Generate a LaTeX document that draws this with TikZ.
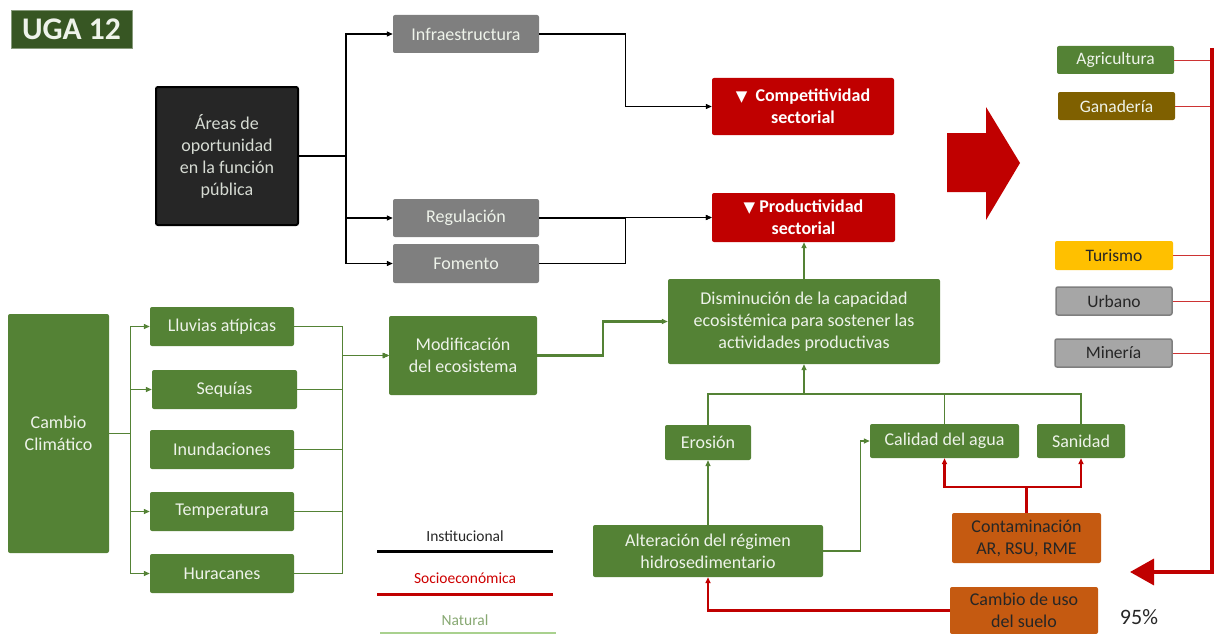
\documentclass[tikz,border=0pt]{standalone}
\usepackage{fontspec}
\setmainfont{Carlito}
\newfontfamily\symfont{DejaVu Sans}
\usetikzlibrary{arrows.meta,calc}
\definecolor{natgreen}{HTML}{548235}
\definecolor{ugagreen}{HTML}{375623}
\definecolor{boxgray}{HTML}{7F7F7F}
\definecolor{sered}{HTML}{C00000}
\definecolor{orng}{HTML}{C55A11}
\definecolor{brwn}{HTML}{7F6000}
\definecolor{yllw}{HTML}{FFC000}
\definecolor{urbgray}{HTML}{A6A6A6}
\definecolor{lightgreen}{HTML}{A9D18E}
\definecolor{boxtext}{HTML}{EEF3EA}
\definecolor{darktext}{HTML}{262626}
\tikzset{
  sz/.style 2 args={minimum width=#1, minimum height=#2},
  box/.style={rectangle, rounded corners=2pt, inner sep=1pt, align=center, font=\fontsize{18}{22}\selectfont},
  gbox/.style={box, fill=natgreen, text=boxtext},
  graybox/.style={box, fill=boxgray, text=boxtext},
  redbox/.style={box, fill=sered, text=white, font=\fontsize{18}{22}\selectfont\bfseries},
  obox/.style={box, fill=orng, text=darktext},
  sbox/.style={box, font=\fontsize{17.5}{20}\selectfont},
  lgd/.style={font=\fontsize{15.5}{18}\selectfont},
  tip/.style={-{Triangle[length=6pt,width=5pt]}},
  blk/.style={draw=black, line width=1.2pt},
  nat/.style={draw=natgreen, line width=1.3pt},
  natthick/.style={draw=natgreen, line width=2.4pt},
  soc/.style={draw=sered, line width=2.6pt},
  thinred/.style={draw=sered!80, line width=0.8pt},
}
\begin{document}
\begin{tikzpicture}[x=1pt,y=-1pt]
\useasboundingbox (0,0) rectangle (1218,634);

% title
\node[rectangle, fill=ugagreen, draw=ugagreen!60, line width=0.6pt, text=boxtext, font=\fontsize{31.5}{34}\selectfont\bfseries, sz={121pt}{38pt}, inner sep=0pt] (uga) at (71.5,29) {UGA 12};

% institutional
\node[box, fill=darktext, draw=black, line width=2pt, text=boxtext!90!black, sz={142pt}{138pt}] (areas) at (227,156) {Áreas de\\oportunidad\\en la función\\pública};
\node[graybox, sz={146pt}{38pt}] (infra) at (466,34) {Infraestructura};
\node[graybox, sz={146pt}{38pt}] (regul) at (466,218) {Regulación};
\node[graybox, sz={146pt}{39pt}] (foment) at (466,263.5) {Fomento};
\node[redbox, sz={182pt}{57pt}] (compet) at (803,106.5) {{\symfont\fontsize{15}{22}\selectfont ▼}\ \ Competitividad\\sectorial};
\node[redbox, sz={183pt}{49pt}] (produc) at (803.5,217.5) {{\symfont\fontsize{15}{22}\selectfont ▼}\ Productividad\\sectorial};

\draw[blk,tip] (areas.east) -- ++(47,0) |- (infra.west);
\draw[blk,tip] (areas.east) -- ++(47,0) |- (regul.west);
\draw[blk,tip] (areas.east) -- ++(47,0) |- (foment.west);
\draw[blk,tip] (infra.east) -- ++(86,0) |- (compet.west);
\draw[blk,tip] (regul.east) -- ++(86,0) |- (produc.west);
\draw[blk,tip] (foment.east) -- ++(86,0) |- (produc.west);

% big arrow
\fill[sered] (947,133) -- (986,133) -- (986,107) -- (1020,163) -- (986,220) -- (986,192) -- (947,192) -- cycle;

% sectors
\node[sbox, fill=natgreen, text=boxtext, sz={117pt}{28pt}] (agri) at (1115.5,60) {Agricultura};
\node[sbox, fill=brwn, text=boxtext, sz={117pt}{28pt}] (gana) at (1116.5,106) {Ganadería};
\node[sbox, fill=yllw, text=darktext, sz={118pt}{29pt}] (turis) at (1114,255.5) {Turismo};
\node[sbox, fill=urbgray, draw=boxgray, line width=1.5pt, text=darktext, sz={116pt}{28pt}] (urb) at (1114,301) {Urbano};
\node[sbox, fill=urbgray, draw=boxgray, line width=1.5pt, text=darktext, sz={117pt}{28pt}] (mine) at (1113.5,353) {Minería};

\coordinate (rtop) at (1212,48);
\coordinate (rcorner) at (1212,572);
\coordinate (rend) at (1130,572);
\draw[thinred] (agri.east) -- (agri.east -| rtop);
\draw[thinred] (gana.east) -- (gana.east -| rtop);
\draw[thinred] (turis.east) -- (turis.east -| rtop);
\draw[thinred] (urb.east) -- (urb.east -| rtop);
\draw[thinred] (mine.east) -- (mine.east -| rtop);
\draw[draw=sered, line width=3.5pt, -{Triangle[length=24pt,width=26pt]}] (rtop) -- (rcorner) -- (rend);

\node[font=\fontsize{22}{24}\selectfont, text=darktext] (pct) at (1139,617) {95\%};

% climate
\node[gbox, sz={101pt}{239pt}] (cc) at (58.5,433.5) {Cambio\\Climático};
\node[gbox, sz={144pt}{39pt}] (lluv) at (222,326.5) {Lluvias atípicas};
\node[gbox, sz={145pt}{39pt}] (seq) at (224.5,389.5) {Sequías};
\node[gbox, sz={144pt}{39pt}] (inun) at (222,449.5) {Inundaciones};
\node[gbox, sz={144pt}{39pt}] (temp) at (222,511.5) {Temperatura};
\node[gbox, sz={144pt}{39pt}] (hura) at (222,573.5) {Huracanes};

\draw[nat,tip] (cc.east) -- ++(21,0) |- (lluv.west);
\draw[nat,tip] (cc.east) -- ++(21,0) |- (seq.west);
\draw[nat,tip] (cc.east) -- ++(21,0) |- (temp.west);
\draw[nat,tip] (cc.east) -- ++(21,0) |- (hura.west);

\node[gbox, sz={148pt}{79pt}] (modif) at (463,355.5) {Modificación\\del ecosistema};
\draw[nat,tip] (lluv.east) -- ++(48,0) |- (modif.west);
\draw[nat,tip] (seq.east) -- ++(45,0) |- (modif.west);
\draw[nat,tip] (inun.east) -- ++(48,0) |- (modif.west);
\draw[nat,tip] (temp.east) -- ++(48,0) |- (modif.west);
\draw[nat,tip] (hura.east) -- ++(48,0) |- (modif.west);

\node[gbox, sz={272pt}{85pt}] (dism) at (804,321.5) {Disminución de la capacidad\\ecosistémica para sostener las\\actividades productivas};
\draw[natthick,tip] (modif.east) -- ++(66,0) |- (dism.west);
\draw[natthick,tip] (dism.north) -- (dism.north |- produc.south);

\node[gbox, sz={86pt}{35pt}] (eros) at (708,442.5) {Erosión};
\node[gbox, sz={149pt}{34pt}] (calid) at (944.5,441) {Calidad del agua};
\node[gbox, sz={88pt}{34pt}] (sanid) at (1081,441) {Sanidad};
\node[gbox, sz={230pt}{52pt}] (alter) at (708,551) {Alteración del régimen\\hidrosedimentario};

\coordinate (bus) at (804,394);
\draw[nat] (eros.north) |- (bus);
\draw[nat] (calid.north) |- (bus);
\draw[nat] (sanid.north) |- (bus);
\draw[nat,tip] (bus) -- (dism.south);
\draw[nat,tip] (alter.north) -- (eros.south);
\draw[nat,tip] (alter.east) -- ++(37,0) |- (calid.west);

\node[obox, sz={149pt}{50pt}] (contam) at (1026.5,538) {Contaminación\\AR, RSU, RME};
\node[obox, sz={148pt}{47pt}] (cambio) at (1024,610.5) {Cambio de uso\\del suelo};

\draw[soc,tip] (contam.north) -- ++(0,-26) -| (calid.south);
\draw[soc,tip] (contam.north) -- ++(0,-26) -| (sanid.south);
\draw[soc,tip] (cambio.west) -| (alter.south);

% legend
\node[lgd, text=darktext] (linst) at (465,536) {Institucional};
\node[lgd, text=sered!80!red] (lsoc) at (465,578) {Socioeconómica};
\node[lgd, text=natgreen!70!white] (lnat) at (465,620) {Natural};
\coordinate (li1) at (377,551); \coordinate (li2) at (553,551);
\coordinate (ls1) at (377,594); \coordinate (ls2) at (553,594);
\coordinate (ln1) at (380,633); \coordinate (ln2) at (556,633);
\draw[black, line width=3pt] (li1) -- (li2);
\draw[sered, line width=3pt] (ls1) -- (ls2);
\draw[lightgreen, line width=2pt] (ln1) -- (ln2);
\end{tikzpicture}
\end{document}
